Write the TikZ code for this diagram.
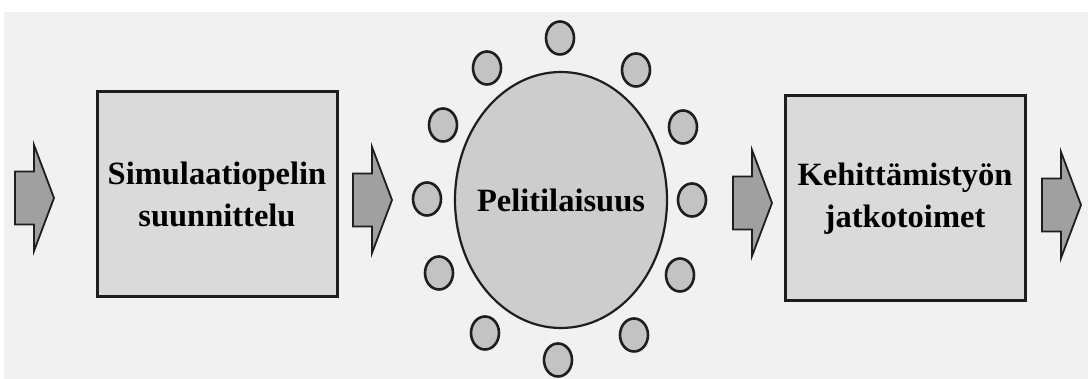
\documentclass[tikz,border=0pt]{standalone}
\usepackage{fontspec}
\setmainfont{Liberation Serif}
\usetikzlibrary{shapes.geometric}
\definecolor{bgray}{HTML}{F1F1F1}
\definecolor{boxfill}{HTML}{DADADA}
\definecolor{ellfill}{HTML}{CDCDCD}
\definecolor{dotfill}{HTML}{C3C3C3}
\definecolor{arrfill}{HTML}{A0A0A0}
\definecolor{inkline}{HTML}{1E1E1E}
\tikzset{
  stagebox/.style={draw=inkline, line width=3pt, fill=boxfill, minimum width=240pt, minimum height=205pt, align=center, inner sep=0pt, font=\bfseries\fontsize{32.5}{42}\selectfont},
  bigell/.style={ellipse, draw=inkline, line width=2.2pt, fill=ellfill, minimum width=212pt, minimum height=256pt, inner sep=0pt, font=\bfseries\fontsize{32.5}{40}\selectfont},
  dotell/.style={ellipse, draw=inkline, line width=2.6pt, fill=dotfill, minimum width=28pt, minimum height=33pt, inner sep=0pt},
  blockarr/.style={draw=inkline, line width=1.8pt, fill=arrfill, line join=miter}
}
\begin{document}
\begin{tikzpicture}[x=1pt,y=-1pt]
\useasboundingbox (0,0) rectangle (1088,379);
\fill[white] (0,0) rectangle (1088,379);
\fill[bgray] (4,12) rectangle (1088,379);

% boxes
\node[stagebox] (plan) at (217,194.5) {Simulaatiopelin\\suunnittelu};
\node[stagebox] (cont) at (905,198.5) {Kehittämistyön\\jatkotoimet};

% central ellipse
\node[bigell] (game) at (561,200) {\makebox[0pt][c]{Pelitilaisuus}};

% surrounding small circles
\node[dotell] (c1) at (560,38) {};
\node[dotell] (c2) at (636,70) {};
\node[dotell] (c3) at (683,127) {};
\node[dotell] (c4) at (692,200) {};
\node[dotell] (c5) at (680,275) {};
\node[dotell] (c6) at (634,335) {};
\node[dotell] (c7) at (558,360) {};
\node[dotell] (c8) at (485,333) {};
\node[dotell] (c9) at (439,273) {};
\node[dotell] (c10) at (427,199) {};
\node[dotell] (c11) at (443,125) {};
\node[dotell] (c12) at (487,68) {};

% block arrows
\coordinate (a1) at (15,198);
\coordinate (a2) at (353,200);
\coordinate (a3) at (733,203);
\coordinate (a4) at (1042,205);
\foreach \a in {a1,a2,a3,a4}{
  \draw[blockarr] (\a) ++(0,-26.5) -- ++(19,0) -- ++(0,-26.5) -- ++(20,53) -- ++(-20,53) -- ++(0,-26.5) -- ++(-19,0) -- cycle;
}
\end{tikzpicture}
\end{document}
